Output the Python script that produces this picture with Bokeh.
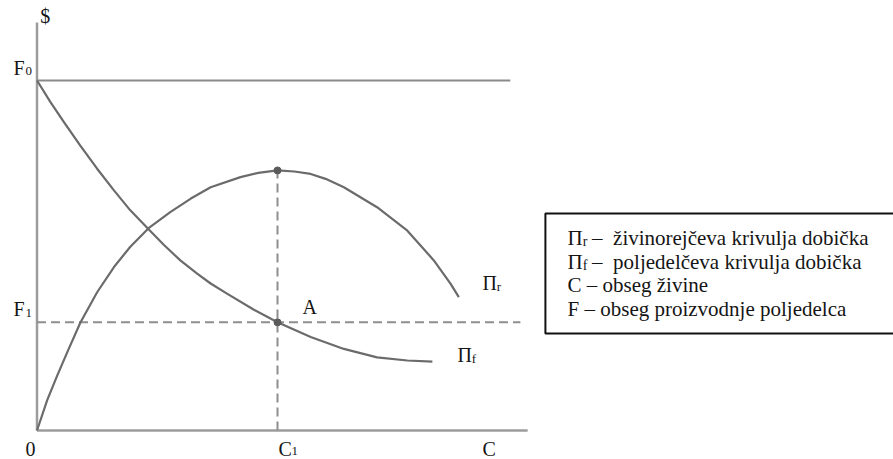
from bokeh.plotting import figure
from bokeh.models import Range1d
from bokeh.embed import file_html
from bokeh.resources import INLINE
from bokeh.core.properties import value

# Rancher's profit curve (Pi_r): livestock volume C -> profit
pi_r_c = [0.00, 0.21, 0.42, 0.63, 0.90, 1.25, 1.60, 1.94, 2.32, 2.77, 3.19,
          3.61, 4.23, 4.60, 5.00, 5.35, 5.69, 6.00, 6.38, 7.07, 7.70, 8.25,
          8.60, 8.77]
pi_r_v = [0.00, 0.86, 1.57, 2.24, 3.08, 3.95, 4.67, 5.25, 5.78, 6.24, 6.62,
          6.95, 7.24, 7.36, 7.43, 7.40, 7.33, 7.19, 6.95, 6.38, 5.71, 4.86,
          4.19, 3.81]

# Farmer's profit curve (Pi_f): livestock volume C -> farmer output
pi_f_c = [0.00, 0.28, 0.56, 0.90, 1.25, 1.60, 1.94, 2.32, 2.64, 2.98, 3.33,
          3.61, 3.95, 4.51, 5.00, 5.69, 6.38, 7.07, 7.70, 8.22]
pi_f_v = [10.0, 9.38, 8.81, 8.14, 7.48, 6.86, 6.29, 5.75, 5.30, 4.86, 4.48,
          4.20, 3.91, 3.45, 3.09, 2.67, 2.33, 2.09, 2.00, 1.97]

F0 = 10.0      # farmer output without livestock
F1 = 3.09      # farmer output at C1
C1 = 5.0       # rancher's optimal herd size
PEAK = 7.43    # rancher's maximum profit
C_END = 10.2   # length of the C axis
Y_END = 11.66  # length of the $ axis
F0_END = 9.84
F1_END = 10.05

legend_lines = [
    ("\u03a0", "r", "\u2013 \u00a0\u017eivinorej\u010deva krivulja dobi\u010dka"),
    ("\u03a0", "f", "\u2013 \u00a0poljedel\u010deva krivulja dobi\u010dka"),
    ("C \u2013 obseg \u017eivine", None, None),
    ("F \u2013 obseg proizvodnje poljedelca", None, None),
]

FONT = value("Liberation Serif")
MAIN_SIZE = "20px"
SUB_SIZE = "13px"
KEY_SIZE = "21px"
KEY_SUB_SIZE = "14px"
LIFT = 0.15     # raises text so the glyph baseline sits where intended
INK = "#151515"
CURVE = "#6b6b6b"
AXIS = "#9c9c9c"
DASH = "#8e8e8e"

p = figure(width=893, height=459, output_backend="svg", toolbar_location=None,
           x_axis_type=None, y_axis_type=None, min_border=0,
           x_range=Range1d(-0.759, 17.807), y_range=Range1d(-0.829, 12.286))
p.outline_line_color = None
p.grid.visible = False
p.background_fill_color = "white"
p.border_fill_color = "white"

# axes
p.line([0, 0], [0, Y_END], line_color=AXIS, line_width=2.5)
p.line([0, C_END], [0, 0], line_color=AXIS, line_width=2.5)

# farmer output with no livestock
p.line([0, F0_END], [F0, F0], line_color="#8a8a8a", line_width=2)

# guide lines through A
p.line([0, F1_END], [F1, F1], line_color=DASH, line_width=2, line_dash="9 5")
p.line([C1, C1], [0, PEAK], line_color=DASH, line_width=2, line_dash="9 5")

# profit curves
p.line(pi_r_c, pi_r_v, line_color=CURVE, line_width=2.2, line_join="round")
p.line(pi_f_c, pi_f_v, line_color=CURVE, line_width=2.2, line_join="round")

p.scatter([C1, C1], [PEAK, F1], size=7, color="#5a5a5a")


def label(x, y, txt, size=MAIN_SIZE):
    p.text([x], [y + LIFT], text=[txt], text_font=FONT, text_font_size=size,
           text_color=INK, text_align="left", text_baseline="alphabetic")


def sub_label(x, y, main, sub, dx, dy=-0.09):
    label(x, y, main)
    label(x + dx, y + dy, sub, size=SUB_SIZE)


label(0.07, Y_END + 0.03, "$")
sub_label(-0.49, F0 + 0.2, "F", "0", 0.25)
sub_label(-0.49, F1 + 0.22, "F", "1", 0.25)
label(-0.24, -0.67, "0")
sub_label(C1 + 0.02, -0.67, "C", "1", 0.27, dy=-0.06)
label(9.26, -0.67, "C")
label(C1 + 0.52, F1 + 0.28, "A")
sub_label(9.26, 4.06, "\u03a0", "r", 0.30)
sub_label(8.74, 2.0, "\u03a0", "f", 0.30)

# legend box
p.quad(left=[10.57], right=[18.6], top=[6.2], bottom=[2.77],
       fill_color=None, line_color="#111111", line_width=2)

baselines = [5.34, 4.66, 4.0, 3.31]
for (main, sub, rest), yb in zip(legend_lines, baselines):
    label(11.03, yb, main, size=KEY_SIZE)
    if sub is not None:
        label(11.345, yb - 0.09, sub, size=KEY_SUB_SIZE)
        label(11.54, yb, rest, size=KEY_SIZE)

open("out.html", "w").write(file_html(p, INLINE))
